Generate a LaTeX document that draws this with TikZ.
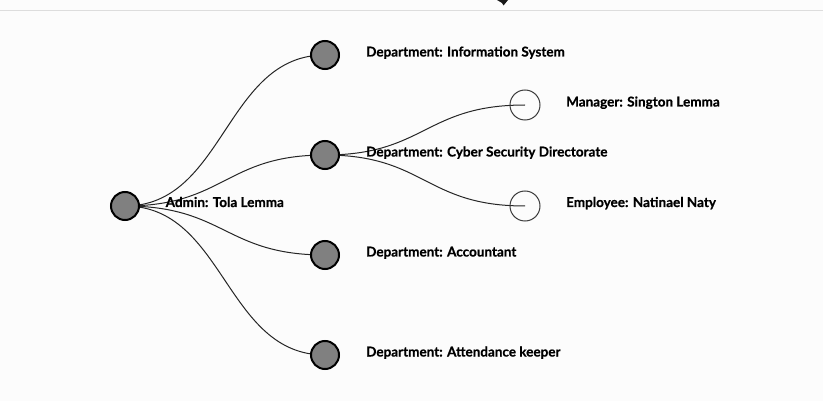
\documentclass[tikz,border=0pt]{standalone}
\usepackage{fontspec}
\setmainfont{Lato}[BoldFeatures={FakeBold=0.6}]
\begin{document}
\begin{tikzpicture}[x=1pt,y=-1pt,
  filled/.style={circle,draw=black,line width=2pt,fill=nodegray,minimum size=28pt,inner sep=0pt},
  leaf/.style={circle,draw=leafline,line width=1pt,fill=none,minimum size=30pt,inner sep=0pt},
  link/.style={draw=black!85,line width=1pt},
  lbl/.style={anchor=base west,inner sep=0pt,font=\fontsize{13.5}{16}\selectfont\bfseries,text=black}]
\definecolor{nodegray}{RGB}{128,128,128}
\definecolor{leafline}{RGB}{60,60,60}
\definecolor{bg}{RGB}{252,252,252}
\definecolor{rule}{RGB}{221,221,221}
\useasboundingbox (0,0) rectangle (823,401);
\fill[bg] (0,0) rectangle (823,401);
\coordinate (ruleL) at (0,11);
\coordinate (ruleR) at (823,11);
\draw[rule,line width=1pt] (ruleL) -- (ruleR);
\fill[black!90] (497,0) -- (508,0) -- (503.5,5.5) -- (502,3) -- cycle;
% node positions
\coordinate (root) at (125,206);
\coordinate (d1) at (325,55);
\coordinate (d2) at (325,155);
\coordinate (d3) at (325,255);
\coordinate (d4) at (325,355);
\coordinate (m) at (525,105);
\coordinate (e) at (525,206);
% links
\foreach \a/\b in {root/d1,root/d2,root/d3,root/d4,d2/m,d2/e}
  \draw[link] (\a) .. controls +(100,0) and +(-100,0) .. (\b);
% nodes
\node[filled] (nroot) at (root) {};
\node[filled] (nd1) at (d1) {};
\node[filled] (nd2) at (d2) {};
\node[filled] (nd3) at (d3) {};
\node[filled] (nd4) at (d4) {};
\node[leaf] (nm) at (m) {};
\node[leaf] (ne) at (e) {};
% labels
\node[lbl] (lroot) at (165.5,207) {Admin: Tola Lemma};
\node[lbl] (ld1) at (366,56.5) {Department: Information System};
\node[lbl] (ld2) at (366,156.5) {Department: Cyber Security Directorate};
\node[lbl] (ld3) at (366,256.5) {Department: Accountant};
\node[lbl] (ld4) at (366,356.5) {Department: Attendance keeper};
\node[lbl] (lm) at (566,106.5) {Manager: Sington Lemma};
\node[lbl] (le) at (566,207) {Employee: Natinael Naty};
\end{tikzpicture}
\end{document}
